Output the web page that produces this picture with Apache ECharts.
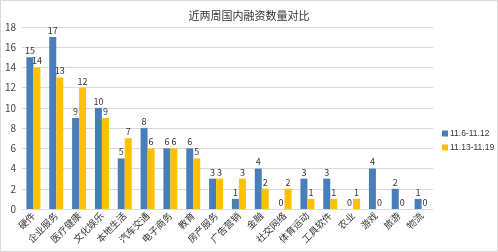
<!DOCTYPE html>
<html><head><meta charset="utf-8">
<script src="https://cdn.jsdelivr.net/npm/echarts@6/dist/echarts.min.js"></script>
<style>html,body{margin:0;padding:0;background:#fff}#c{width:498px;height:252px;box-sizing:border-box;border:1px solid #d9d9d9}</style>
</head><body><div id="c"></div>
<script>
const categories = ['硬件','企业服务','医疗健康','文化娱乐','本地生活','汽车交通','电子商务','教育','房产服务','广告营销','金融','社交网络','体育运动','工具软件','农业','游戏','旅游','物流'];
const week1 = [15,17,9,10,5,8,6,6,3,1,4,0,3,3,0,4,2,1];
const week2 = [14,13,12,9,7,6,6,5,3,3,2,2,1,1,1,0,0,0];
const seriesNames = ['11.6-11.12','11.13-11.19'];
const chart = echarts.init(document.getElementById('c'));
const font = '"Microsoft YaHei","Noto Sans CJK SC",sans-serif';
const lbl = {show:true,position:'top',fontSize:9,color:'#333',distance:2,fontFamily:font};
chart.setOption({
  animation:false,
  textStyle:{fontFamily:font},
  title:{text:'近两周国内融资数量对比',left:'center',top:4,textStyle:{fontSize:11,fontWeight:'normal',color:'#333',fontFamily:font}},
  legend:{orient:'vertical',left:436,top:123,itemWidth:6,itemHeight:6,itemGap:5,icon:'rect',textStyle:{fontSize:8.5,color:'#333',fontFamily:'"Liberation Sans",Arial,sans-serif',padding:[0,0,0,-3]},data:seriesNames},
  grid:{left:21,right:64,top:26,bottom:42,containLabel:false},
  xAxis:{type:'category',data:categories,axisTick:{show:false},axisLine:{lineStyle:{color:'#d9d9d9'}},
    axisLabel:{rotate:45,fontSize:9.5,color:'#333',interval:0,margin:5}},
  yAxis:{type:'value',min:0,max:18,interval:2,axisLabel:{fontSize:10,color:'#444',margin:6},splitLine:{lineStyle:{color:'#d9d9d9'}},axisLine:{show:false},axisTick:{show:false}},
  series:[
    {name:seriesNames[0],type:'bar',data:week1,barWidth:7,barGap:'0%',itemStyle:{color:'#4a7ebb'},label:lbl},
    {name:seriesNames[1],type:'bar',data:week2,barWidth:7,barGap:'0%',itemStyle:{color:'#ffc000'},label:lbl}
  ]
});
</script></body></html>
